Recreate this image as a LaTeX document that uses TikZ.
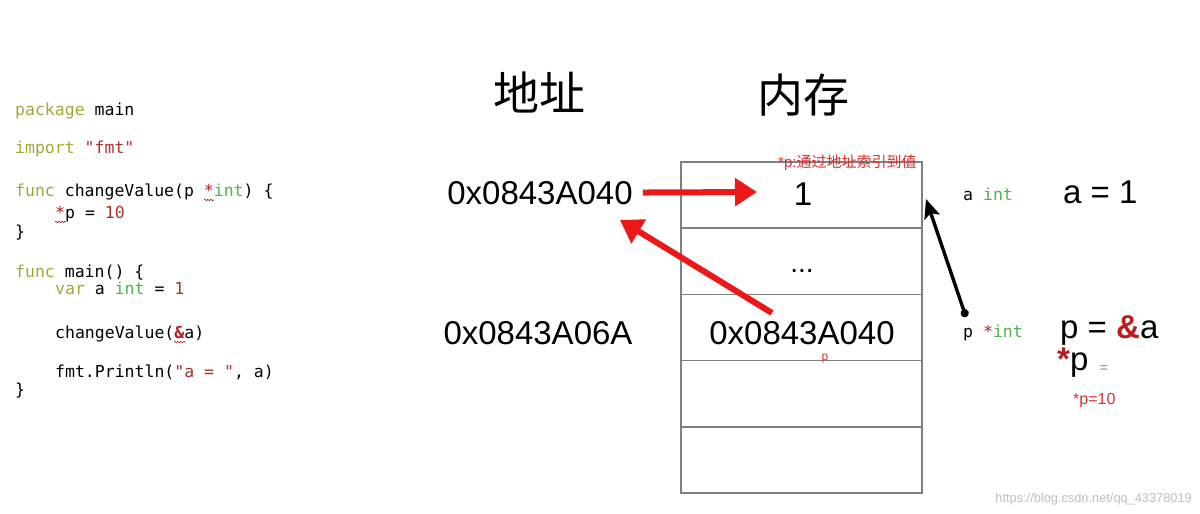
\documentclass[tikz,border=0pt]{standalone}
\usepackage{fontspec}
\setmainfont{Liberation Sans}
\setmonofont{DejaVu Sans Mono}
\newfontfamily\cjk{Noto Sans CJK SC}
\usepackage{xcolor}
\usetikzlibrary{arrows.meta, decorations.pathmorphing}

\definecolor{kwcol}{RGB}{163,168,58}
\definecolor{typecol}{RGB}{80,178,80}
\definecolor{numcol}{RGB}{168,52,44}
\definecolor{opcol}{RGB}{185,28,28}
\definecolor{notered}{RGB}{215,50,50}
\definecolor{arrred}{RGB}{236,24,24}
\definecolor{cellgray}{RGB}{128,128,128}

\newcommand{\gokw}[1]{\textcolor{kwcol}{#1}}
\newcommand{\gotype}[1]{\textcolor{typecol}{#1}}
\newcommand{\gonum}[1]{\textcolor{numcol}{#1}}
\newcommand{\goop}[1]{\textcolor{opcol}{#1}}

\begin{document}
\begin{tikzpicture}[x=1pt, y=-1pt,
    code/.style={anchor=base west, inner sep=0pt, font=\fontsize{16.5}{18}\ttfamily},
    big/.style={inner sep=0pt, font=\fontsize{33}{36}\selectfont},
    head/.style={inner sep=0pt, font=\fontsize{46}{48}\cjk},
    note/.style={inner sep=0pt, text=notered},
    cell/.style={draw=cellgray, line width=1.5pt, minimum width=241pt, minimum height=66.2pt, inner sep=0pt},
    redarrow/.style={draw=arrred, line width=6pt, -{Triangle[length=22pt,width=27pt]}},
    squiggle/.style={opcol, line width=0.6pt, decorate, decoration={snake, amplitude=0.8pt, segment length=3pt}}]
    \fill[white] (0,0) rectangle (1200,514);

    % 代码
    \foreach \n/\x/\y/\t in {1/15/115/{\gokw{package} main},
                             2/15/153/{\gokw{import} \gonum{"fmt"}},
                             3/15/196/{\gokw{func} changeValue(p \goop{*}\gotype{int}) \{},
                             4/55/218/{\goop{*}p = \gonum{10}},
                             5/15/237/{\}},
                             6/15/277/{\gokw{func} main() \{},
                             7/55/294/{\gokw{var} a \gotype{int} = \gonum{1}},
                             8/55/338/{changeValue(\goop{\textbf{\&}}a)},
                             9/55/377/{fmt.Println(\gonum{"a = "}, a)},
                             10/15/395/{\}}} {
        \node[code] (c\n) at (\x,\y) {\t};
    }
    \draw[squiggle] (204,200) -- (214,200);
    \draw[squiggle] (55,222) -- (66,222);
    \draw[squiggle] (174,342) -- (186,342);

    % 标题
    \node[head] (addrhead) at (539,92) {地址};
    \node[head] (memhead) at (803,95) {内存};

    % 内存格子
    \foreach \i in {1,...,5} {
        \node[cell] (m\i) at (801.5,{162+66.2*(\i-0.5)}) {};
    }
    \node[big] (val1) at (803,194) {1};
    \node[big, anchor=base, font=\fontsize{28}{30}\selectfont] (dots) at (802,272) {...};
    \node[big] (val3) at (802,333) {0x0843A040};
    \node[note, anchor=base west, font=\fontsize{15}{16}\selectfont] (deref) at (778,167) {*p:{\cjk 通过地址索引到值}};
    \node[note, font=\fontsize{12}{13}\selectfont] (pname) at (825,359) {p};

    % 地址
    \node[big] (addrA) at (540,193) {0x0843A040};
    \node[big] (addrP) at (538,333) {0x0843A06A};

    % 右边的变量
    \node[code] (avar) at (963,200) {a \gotype{int}};
    \node[code] (pvar) at (963,337) {p \goop{*}\gotype{int}};
    \node[big, anchor=base west] (aeq) at (1063,203) {a = 1};
    \node[big, anchor=base west] (peq) at (1060,338) {p = \textcolor{opcol}{\textbf{\&}}a};
    \node[big, anchor=base west] (pstar) at (1057,370) {\textcolor{opcol}{\textbf{*}}p};
    \node[inner sep=0pt, text=gray, font=\fontsize{14}{14}\selectfont] (pstareq) at (1104,369) {=};
    \node[note, anchor=base west, font=\fontsize{16}{17}\selectfont] (pten) at (1073,404) {*p=10};

    % 箭头
    \coordinate (valtip) at (757,192);
    \coordinate (ptrfrom) at (772,313);
    \coordinate (addrtip) at (620,220);
    \coordinate (pdot) at (966,317);
    \coordinate (atip) at (926,199);
    \draw[redarrow, shorten <=10pt] (addrA) -- (valtip);
    \draw[redarrow] (ptrfrom) -- (addrtip);
    \draw[line width=3.4pt, {Circle[length=8pt]}-{Stealth[length=19pt,width=16pt,inset=4pt]}] (pdot) -- (atip);

    % 水印
    \node[inner sep=0pt, anchor=east, text=black!25, font=\fontsize{12.8}{14}\selectfont] (mark) at (1192,499) {https://blog.csdn.net/qq\_43378019};
\end{tikzpicture}
\end{document}
